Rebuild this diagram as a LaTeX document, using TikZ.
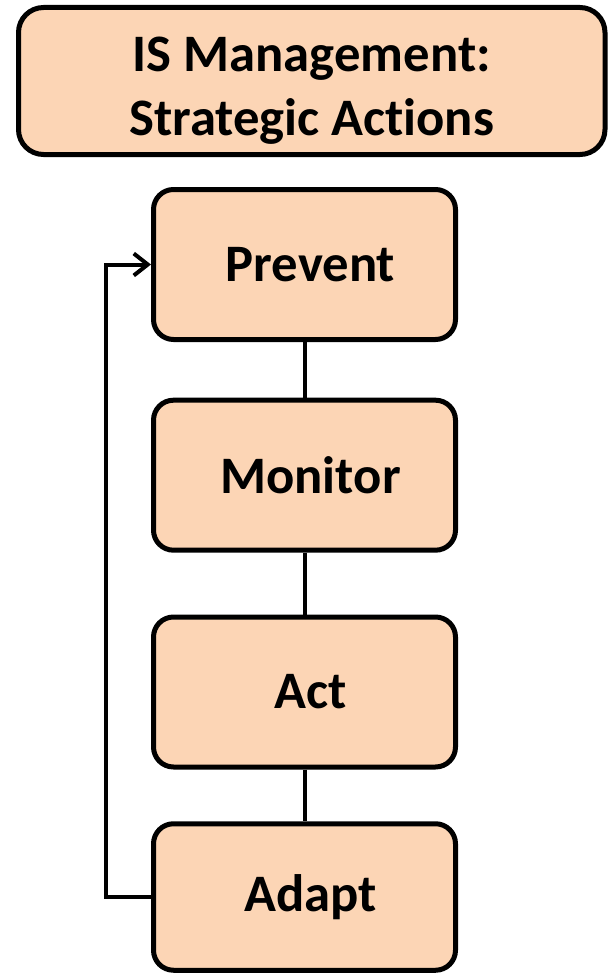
\documentclass[tikz,border=0pt]{standalone}
\usepackage{fontspec}
\setmainfont{Carlito}[Ligatures={NoCommon,NoContextual}]
\usetikzlibrary{arrows.meta}
\definecolor{boxfillcolor}{rgb}{0.988235, 0.835294, 0.709804}
\newlength{\du}
\setlength{\du}{0.75pt}
\tikzset{
  actionbox/.style={draw=black, fill=boxfillcolor, line width=5\du, rounded corners=20\du,
    minimum width=302\du, minimum height=150\du, inner sep=0pt,
    execute at begin node=\hspace*{12\du},
    font=\fontsize{39.5}{47}\selectfont\bfseries},
  titlebox/.style={draw=black, fill=boxfillcolor, line width=5\du, rounded corners=25\du,
    minimum width=586.5\du, minimum height=147\du, inner sep=0pt,
    text height=81pt, text depth=0pt,
    align=center, font=\fontsize{39.5}{47.5}\selectfont\bfseries},
  link/.style={draw=black, line width=4\du},
}

\begin{document}
\begin{tikzpicture}
\pgftransformxscale{1.000000}
\pgftransformyscale{-1.000000}
\useasboundingbox (0\du,0\du) rectangle (609\du,974\du);
% title
\node[titlebox] (title) at (311.75\du,81\du) {IS Management:\\Strategic Actions};
% the four actions
\node[actionbox] (prevent) at (304.5\du,264.5\du) {Prevent};
\node[actionbox] (monitor) at (304.5\du,475.2\du) {Monitor};
\node[actionbox] (act) at (304.5\du,692\du) {Act};
\node[actionbox, minimum height=146.5\du] (adapt) at (304.5\du,897\du) {Adapt};
% chain
\draw[link] (prevent) -- (monitor);
\draw[link] (monitor) -- (act);
\draw[link] (act) -- (adapt);
% loop back
\draw[link, -{Straight Barb[length=10.5pt, width=16.5pt]}] (adapt.west) -- ++(-45\du,0) |- (prevent.west);
\end{tikzpicture}
\end{document}
